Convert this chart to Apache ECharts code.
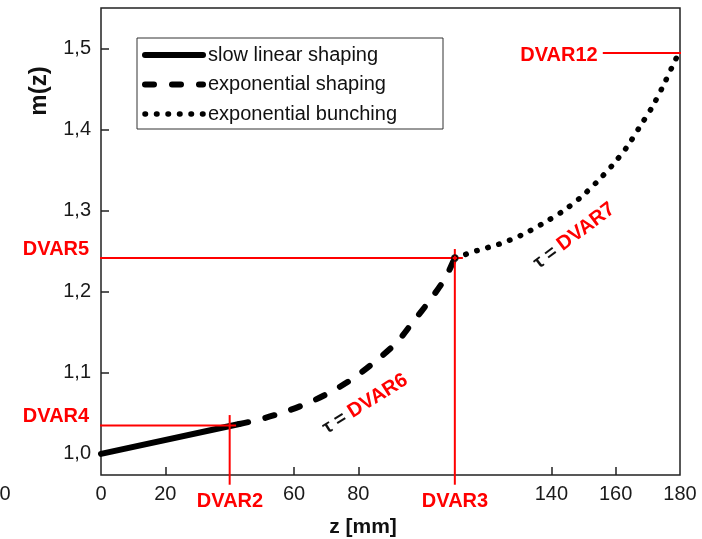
<!DOCTYPE html>
<html><head><meta charset="utf-8">
<script src="https://cdn.jsdelivr.net/npm/echarts@6/dist/echarts.min.js"></script>
<style>html,body{margin:0;padding:0;background:#fff}#c{width:702px;height:539px}</style>
</head><body><div id="c"></div>
<script>
// ---- data ----
const seriesNames = ['slow linear shaping', 'exponential shaping', 'exponential bunching'];
const linearZ = [0, 43];
const linearM = [1.000, 1.037];
const shapingZ = [43, 48.8, 57.2, 65.0, 72.1, 79.0, 85.8, 92.0, 97.0, 102.3, 107.0, 110.0];
const shapingM = [1.037, 1.042, 1.052, 1.064, 1.078, 1.095, 1.116, 1.138, 1.163, 1.190, 1.217, 1.242];
const bunchingZ = [110, 116.9, 123.7, 130.6, 137.1, 143.3, 148.9, 154.2, 159.1, 163.5, 167.5, 171.3, 174.7, 177.8, 179.6];
const bunchingM = [1.242, 1.251, 1.259, 1.270, 1.284, 1.299, 1.316, 1.336, 1.357, 1.379, 1.404, 1.428, 1.454, 1.480, 1.495];
const xTickValues = [20, 60, 80, 140, 160];
const xLabelValues = [0, 20, 60, 80, 140, 160, 180];
const yTickValues = [1.0, 1.1, 1.2, 1.3, 1.4, 1.5];
const xRange = [0, 180];
const yRange = [0.974, 1.5506];
// reference markers (data coordinates)
const dvar2Z = 40, dvar3Z = 110;
const dvar4M = 1.035, dvar5M = 1.242, dvar12M = 1.495;
const hLineDVAR4 = [[-2.8, dvar4M], [42, dvar4M]];
const vLineDVAR2 = [[dvar2Z, 1.048], [dvar2Z, 0.962]];
const hLineDVAR5 = [[-2.4, dvar5M], [112.5, dvar5M]];
const vLineDVAR3 = [[dvar3Z, 1.253], [dvar3Z, 0.962]];
const hLineDVAR12 = [[156, dvar12M], [182.5, dvar12M]];
const junctionPoint = [[dvar3Z, dvar5M]];

const zip = (a, b) => a.map((v, i) => [v, b[i]]);
const FONT = '"Liberation Sans", Arial, sans-serif';
const RED = '#ff0000';

const chart = echarts.init(document.getElementById('c'));

const redLine = (name, data) => ({
  name, type: 'line', data, symbol: 'none', clip: false, silent: true, z: 5,
  lineStyle: { color: RED, width: 2 }
});

const styles = [
  { color: '#000', width: 6, type: 'solid', cap: 'round' },
  { color: '#000', width: 6, type: [9, 18], cap: 'round' },
  { color: '#000', width: 5.5, type: [0.5, 11], cap: 'round' }
];

const option = {
  animation: false,
  grid: { left: 101, right: 22, top: 8, bottom: 64, show: true, borderColor: '#222', borderWidth: 1.5 },
  xAxis: {
    type: 'value', min: xRange[0], max: xRange[1],
    axisLine: { show: false }, splitLine: { show: false },
    axisTick: { show: true, inside: true, length: 8, lineStyle: { color: '#222', width: 1.5 }, customValues: xTickValues },
    axisLabel: { customValues: xLabelValues, margin: 9, fontSize: 20, color: '#1a1a1a', fontFamily: FONT }
  },
  yAxis: {
    type: 'value', min: yRange[0], max: yRange[1],
    axisLine: { show: false }, splitLine: { show: false },
    axisTick: { show: true, inside: true, length: 8, lineStyle: { color: '#222', width: 1.5 }, customValues: yTickValues },
    axisLabel: { customValues: yTickValues, margin: 10, fontSize: 20, color: '#1a1a1a', fontFamily: FONT,
      formatter: v => v.toFixed(1).replace('.', ',') }
  },
  legend: {
    data: seriesNames.map((n, i) => ({ name: n, lineStyle: styles[i], itemStyle: { opacity: 0 } })),
    orient: 'vertical', left: 137, top: 38,
    padding: [6, 8, 4, 5], itemGap: 7.5, itemWidth: 58, itemHeight: 14,
    borderColor: '#333', borderWidth: 1, selectedMode: false,
    itemStyle: { opacity: 0 },
    textStyle: { fontSize: 20, lineHeight: 22, color: '#111', fontFamily: FONT, width: 227 }
  },
  series: [
    { name: seriesNames[0], type: 'line', data: zip(linearZ, linearM), symbol: 'none', z: 3,
      lineStyle: styles[0], itemStyle: { color: '#000' } },
    { name: seriesNames[1], type: 'line', data: zip(shapingZ, shapingM), symbol: 'none', smooth: 0.3, z: 3,
      lineStyle: styles[1], itemStyle: { color: '#000' } },
    { name: seriesNames[2], type: 'line', data: zip(bunchingZ, bunchingM), symbol: 'none', smooth: 0.3, z: 3,
      lineStyle: styles[2], itemStyle: { color: '#000' } },
    redLine('DVAR4', hLineDVAR4),
    redLine('DVAR2', vLineDVAR2),
    redLine('DVAR5', hLineDVAR5),
    redLine('DVAR3', vLineDVAR3),
    redLine('DVAR12', hLineDVAR12),
    { name: 'junction', type: 'scatter', data: junctionPoint, symbolSize: 6, z: 6, silent: true,
      itemStyle: { color: 'rgba(0,0,0,0)', borderColor: '#000', borderWidth: 1.5 } }
  ],
  graphic: [
    { type: 'text', x: 39, y: 91, rotation: Math.PI / 2, z: 10,
      style: { text: 'm(z)', fontSize: 24, fontWeight: 'bold', fill: '#111', fontFamily: FONT, align: 'center', verticalAlign: 'middle' } },
    { type: 'text', x: 363, y: 527, z: 10,
      style: { text: 'z [mm]', fontSize: 21, fontWeight: 'bold', fill: '#111', fontFamily: FONT, align: 'center', verticalAlign: 'middle' } },
    { type: 'text', x: 5, y: 494, z: 10,
      style: { text: '0', fontSize: 20, fill: '#1a1a1a', fontFamily: FONT, align: 'center', verticalAlign: 'middle' } },
    { type: 'text', x: 56, y: 416, z: 10,
      style: { text: 'DVAR4', fontSize: 20, fontWeight: 'bold', fill: RED, fontFamily: FONT, align: 'center', verticalAlign: 'middle' } },
    { type: 'text', x: 56, y: 249, z: 10,
      style: { text: 'DVAR5', fontSize: 20, fontWeight: 'bold', fill: RED, fontFamily: FONT, align: 'center', verticalAlign: 'middle' } },
    { type: 'text', x: 559, y: 55, z: 10,
      style: { text: 'DVAR12', fontSize: 20, fontWeight: 'bold', fill: RED, fontFamily: FONT, align: 'center', verticalAlign: 'middle' } },
    { type: 'text', x: 230, y: 501, z: 10,
      style: { text: 'DVAR2', fontSize: 20, fontWeight: 'bold', fill: RED, fontFamily: FONT, align: 'center', verticalAlign: 'middle' } },
    { type: 'text', x: 455, y: 501, z: 10,
      style: { text: 'DVAR3', fontSize: 20, fontWeight: 'bold', fill: RED, fontFamily: FONT, align: 'center', verticalAlign: 'middle' } },
    { type: 'text', x: 365, y: 404, rotation: 32 * Math.PI / 180, z: 10,
      style: { text: '{t|τ = }{r|DVAR6}', fontFamily: FONT, align: 'center', verticalAlign: 'middle',
        rich: { t: { fontSize: 19, fontWeight: 'bold', fill: '#111', fontFamily: FONT }, r: { fontSize: 20, fontWeight: 'bold', fill: RED, fontFamily: FONT } } } },
    { type: 'text', x: 574, y: 236, rotation: 37 * Math.PI / 180, z: 10,
      style: { text: '{t|τ = }{r|DVAR7}', fontFamily: FONT, align: 'center', verticalAlign: 'middle',
        rich: { t: { fontSize: 19, fontWeight: 'bold', fill: '#111', fontFamily: FONT }, r: { fontSize: 20, fontWeight: 'bold', fill: RED, fontFamily: FONT } } } }
  ]
};
chart.setOption(option);
</script>
</body></html>
